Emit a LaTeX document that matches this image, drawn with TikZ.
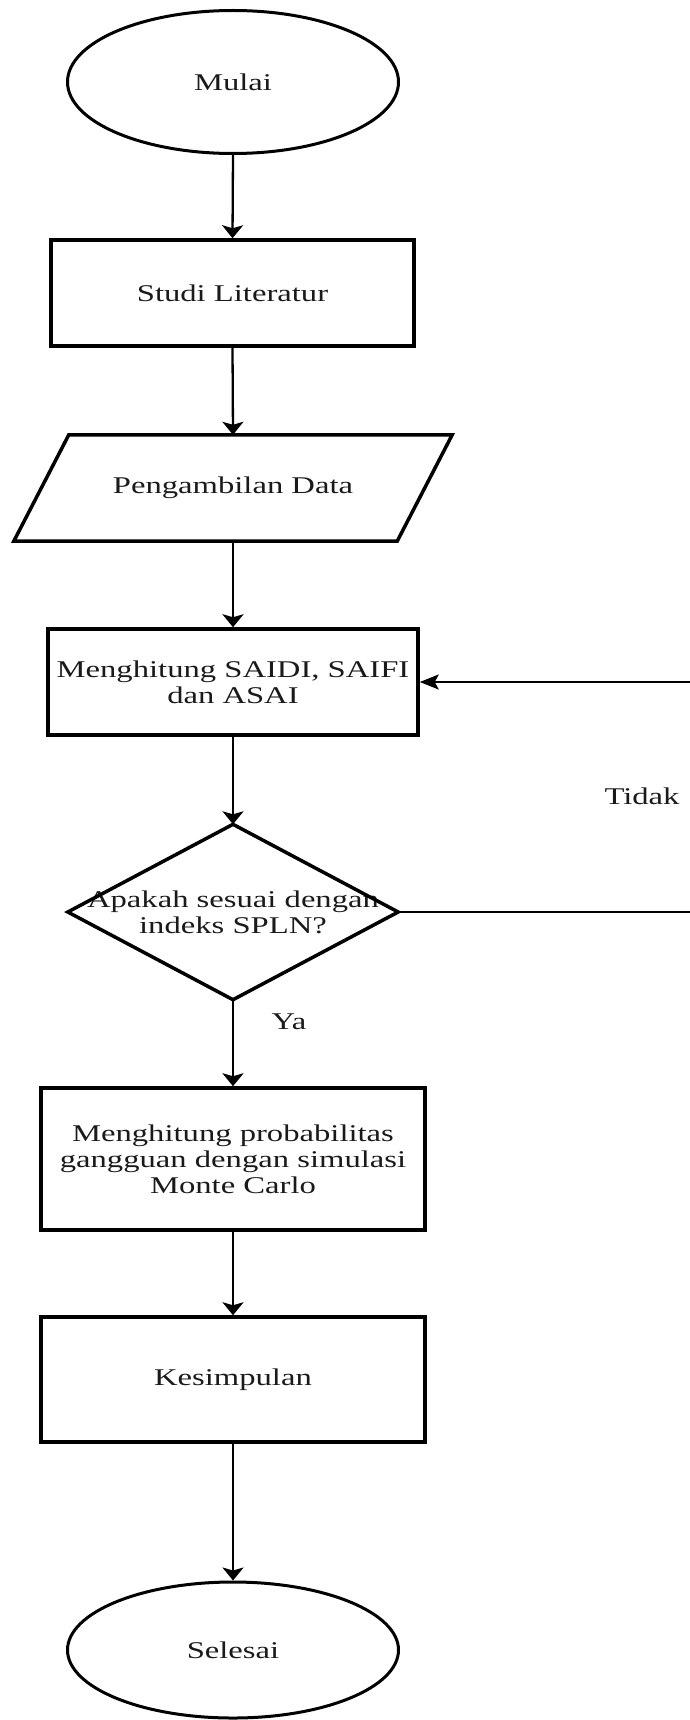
\documentclass[tikz,border=0pt]{standalone}
\usepackage{fontspec}
\setmainfont{Liberation Serif}[FakeStretch=1.36]
\usetikzlibrary{arrows.meta,shapes.geometric}
\definecolor{txt}{HTML}{1A1A1A}
\begin{document}
\begin{tikzpicture}[x=1pt,y=-1pt,
  every node/.style={font=\fontsize{24}{26}\selectfont, text=txt},
  box/.style={draw, line width=3.5pt, rectangle, inner sep=0pt, align=center},
  term/.style={draw, line width=3pt, ellipse, inner sep=0pt},
  plain/.style={rectangle, inner sep=0pt, align=center},
  shapeline/.style={line width=3.5pt, line join=miter},
  arr/.style={line width=2.3pt, -{Stealth[length=13pt,width=21pt,inset=3pt]}},
  fbarr/.style={line width=1.6pt, -{Stealth[length=19pt,width=15pt,inset=4pt]}},
  lbl/.style={inner sep=0pt}]
\useasboundingbox (0,0) rectangle (689,1720);
\node[term, minimum width=331pt, minimum height=143pt] (start) at (233,82) {Mulai};
\node[box, minimum width=363pt, minimum height=106pt] (lit) at (232.5,293) {Studi Literatur};
\node[plain, minimum width=383pt, minimum height=106pt] (data) at (233,488) {Pengambilan Data};
\draw[shapeline] ([xshift=27.5pt]data.north west) -- ([xshift=27.5pt]data.north east) -- ([xshift=-27.5pt]data.south east) -- ([xshift=-27.5pt]data.south west) -- cycle;
\node[box, minimum width=370pt, minimum height=106pt] (calc) at (233,682) {Menghitung SAIDI, SAIFI\\dan ASAI};
\node[plain, minimum width=330pt, minimum height=175pt] (dec) at (233,912) {Apakah sesuai dengan\\indeks SPLN?};
\draw[shapeline] (dec.north) -- (dec.east) -- (dec.south) -- (dec.west) -- cycle;
\node[box, minimum width=384pt, minimum height=142pt] (mc) at (233,1159) {Menghitung probabilitas\\gangguan dengan simulasi\\Monte Carlo};
\node[box, minimum width=384pt, minimum height=125pt] (kes) at (233,1379.5) {Kesimpulan};
\node[term, minimum width=331pt, minimum height=136pt] (end) at (233,1650) {Selesai};

\draw[arr] (start.south) -- (lit.north);
\draw[arr] (lit.south) -- (data.north);
\draw[arr] (data.south) -- (calc.north);
\draw[arr] (calc.south) -- (dec.north);
\draw[arr] (dec.south) -- (mc.north);
\draw[arr] (mc.south) -- (kes.north);
\draw[arr] (kes.south) -- (end.north);

\coordinate (fbR) at (697,912);
\draw[fbarr] (dec.east) -- (fbR) |- (calc.east);

\node[lbl] (tidak) at (642,796) {Tidak};
\node[lbl] (ya) at (289,1022) {Ya};
\end{tikzpicture}
\end{document}
